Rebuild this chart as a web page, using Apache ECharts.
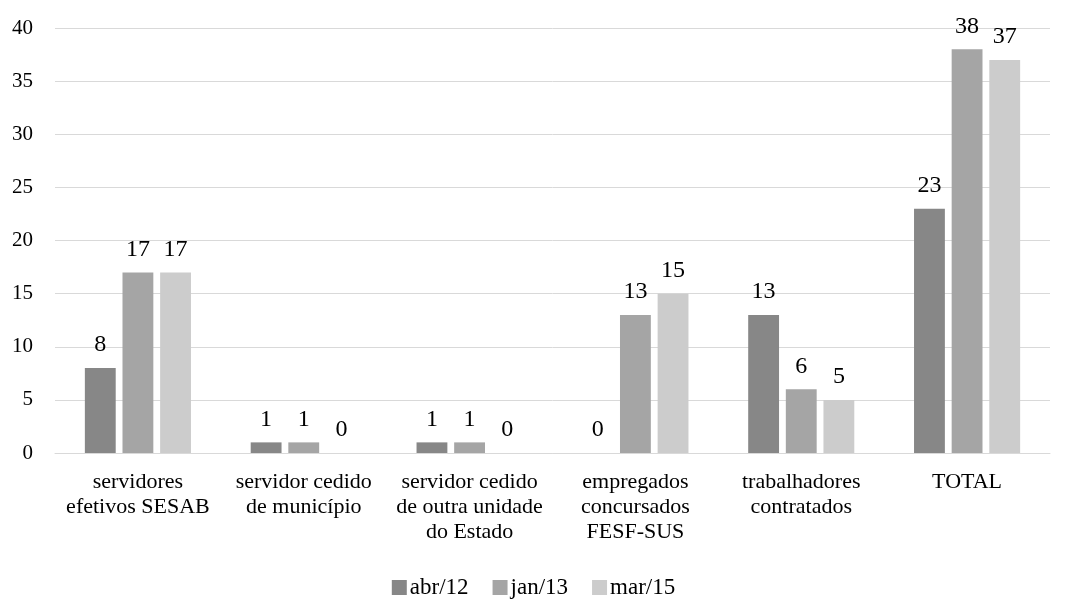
<!DOCTYPE html>
<html><head><meta charset="utf-8">
<script src="https://cdn.jsdelivr.net/npm/echarts@6/dist/echarts.min.js"></script>
<style>html,body{margin:0;padding:0;background:#fff}#c{width:1067px;height:599px}</style>
</head><body><div id="c"></div>
<script>
const categories = ["servidores\nefetivos SESAB","servidor cedido\nde município","servidor cedido\nde outra unidade\ndo Estado","empregados\nconcursados\nFESF-SUS","trabalhadores\ncontratados","TOTAL"];
const seriesNames = ["abr/12","jan/13","mar/15"];
const abr12 = [8,1,1,0,13,23];
const jan13 = [17,1,1,13,6,38];
const mar15 = [17,0,0,15,5,37];
const yTicks = {min:0, max:40, interval:5};
const colors = ["#878787","#a5a5a5","#cccccc"];
const font = "Liberation Serif";
const chart = echarts.init(document.getElementById('c'));
const mk = (name, data, color) => ({
  name, type:'bar', data, barWidth:'18.6%', barGap:'22%',
  itemStyle:{color},
  label:{show:true, position:'top', color:'#000', fontFamily:font, fontSize:24, distance:11}
});
chart.setOption({
  animation:false,
  color:colors,
  textStyle:{fontFamily:font},
  grid:{left:55, right:17, top:28, bottom:146, containLabel:false},
  legend:{top:571, left:'center', itemWidth:15, itemHeight:15, itemGap:24, icon:'rect',
    textStyle:{fontFamily:font, fontSize:23, color:'#000', padding:[0,0,0,-2]}, data:seriesNames},
  xAxis:{type:'category', data:categories,
    axisLine:{lineStyle:{color:'#d9d9d9', width:1}}, axisTick:{show:false},
    axisLabel:{color:'#000', fontFamily:font, fontSize:22, lineHeight:25, margin:17, interval:0}},
  yAxis:{type:'value', min:yTicks.min, max:yTicks.max, interval:yTicks.interval,
    axisLine:{show:false}, axisTick:{show:false},
    splitLine:{lineStyle:{color:'#d9d9d9', width:1}},
    axisLabel:{color:'#000', fontFamily:font, fontSize:21, margin:22}},
  series:[mk(seriesNames[0],abr12,colors[0]), mk(seriesNames[1],jan13,colors[1]), mk(seriesNames[2],mar15,colors[2])]
});
</script></body></html>
